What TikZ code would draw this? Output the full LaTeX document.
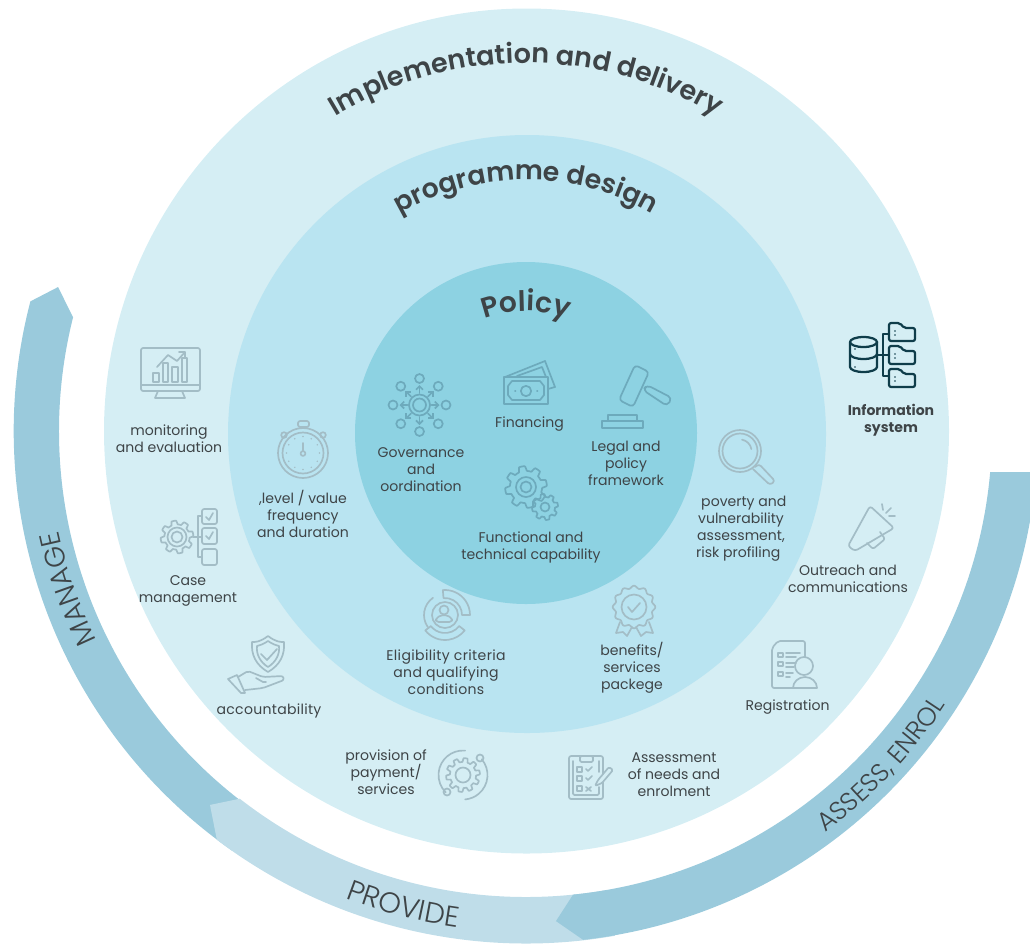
\documentclass[tikz,border=0pt]{standalone}
\usepackage{fontspec}
\setmainfont{Poppins}
\newfontfamily\headfont{Poppins SemiBold}
\newfontfamily\arcfont{Poppins Light}
\usetikzlibrary{arrows.meta,decorations.text}

\definecolor{ringout}{HTML}{D5EEF4}
\definecolor{ringmid}{HTML}{B9E4F1}
\definecolor{ringin}{HTML}{8DD2E2}
\definecolor{arcdark}{HTML}{9ACADC}
\definecolor{arclight}{HTML}{BFDDE9}
\definecolor{textcol}{HTML}{3E4447}
\definecolor{iconcol}{HTML}{A3BDC6}
\definecolor{iconin}{HTML}{6DAABC}
\definecolor{icondark}{HTML}{0F3D4A}

\tikzset{
  lab/.style={font=\fontsize{10}{12.1}\selectfont, align=center, text=textcol, inner sep=0pt},
  icon/.style={draw=iconcol, line width=1.2pt, line cap=round, line join=round},
  inicon/.style={icon, draw=iconin},
  darkicon/.style={icon, draw=icondark, line width=1.6pt},
}
\newcommand{\gearicon}[5][icon]{\draw[#1,shift={(#2,#3)}] plot[domain=0:360,samples=181,variable=\t] (\t:{#4*(1+.13*max(-1,min(1,2.5*sin(#5*\t))))}) -- cycle;}

\begin{document}
\begin{tikzpicture}[x=0.025cm,y=0.025cm]
  \clip (0,0) rectangle (1030,-943);

  % discs
  \fill [ringout] (526.5,-431) circle (422.5);
  \fill [ringmid] (527,-434) circle (299);
  \fill [ringin] (526,-433) circle (171);

  % the three arcs round the discs
  \begin{scope}[shift={(526,-431)}]
    \fill [arcdark] (235:512.3) arc (235:165.34:512.3) -- (162.9:489.6) -- (165.9:467) arc (165.9:235:467) -- cycle;
    \fill [arclight] (280:512.5) arc (280:232.9:512.5) -- (229.8:489.6) -- (232.1:466) arc (232.1:280:466) -- cycle;
    \fill [arcdark] (355.4:512) arc (355.4:276.4:512) -- (273.5:491) -- (275.8:466) arc (275.8:354.95:466) -- cycle;

    \path [decorate,decoration={text along path,text align=center,text color=textcol,text={|\arcfont\fontsize{20}{20}\selectfont|MANAGE}}] (213:478) arc (213:185:478);
    \path [decorate,decoration={text along path,text align=center,text color=textcol,text={|\arcfont\fontsize{20.5}{20}\selectfont|PROVIDE}}] (241:501) arc (241:270:501);
    \path [decorate,decoration={text along path,text align=center,text color=textcol,text={|\arcfont\fontsize{18.3}{18}\selectfont|ASSESS, ENROL}}] (-59.7:501) arc (-59.7:-26.7:501);

    \path [decorate,decoration={text along path,text align=center,text color=textcol,text={|\headfont\fontsize{19.2}{19}\selectfont|Implementation and delivery}}] (130:368) arc (130:50:368);
    \path [decorate,decoration={text along path,text align=center,text color=textcol,text={|\headfont\fontsize{19}{19}\selectfont|programme design}}] (130:251) arc (130:50:251);
    \path [decorate,decoration={text along path,text align=center,text color=textcol,text={|\headfont\fontsize{20}{20}\selectfont|Policy}}] (130:120) arc (130:50:120);
  \end{scope}

  % labels
  \node [lab] (monitoring) at (169,-439) {monitoring\\and evaluation};
  \node [lab] (governance) at (421,-470) {Governance\\and\\oordination};
  \node [lab] (financing) at (529.5,-424) {Financing};
  \node [lab] (legal) at (626,-463) {Legal and\\policy\\framework};
  \node [lab] (level) at (303,-514) {,level / value\\frequency\\and duration};
  \node [lab] (functional) at (531,-547) {Functional and\\technical capability};
  \node [lab] (poverty) at (741,-529) {\hspace*{4pt}poverty and\\vulnerability\\assessment,\\risk profiling\hspace*{4pt}};
  \node [lab,font=\fontsize{10}{12.1}\selectfont\bfseries] (information) at (891,-420) {Information\\system};
  \node [lab] (outreach) at (848,-579) {Outreach and\\communications};
  \node [lab] (casemgmt) at (188,-591) {Case\\management};
  \node [lab,font=\fontsize{10}{12.1}\selectfont\addfontfeature{LetterSpace=2}] (accountability) at (269,-711) {accountability};
  \node [lab,font=\fontsize{10}{12.1}\selectfont\addfontfeature{LetterSpace=2.5}] (eligibility) at (446,-672) {Eligibility criteria\\and qualifying\\conditions};
  \node [lab] (benefits) at (632,-668) {benefits/\\services\\packege};
  \node [lab] (registration) at (787.5,-707) {Registration};
  \node [lab] (provision) at (386,-772) {provision of\\payment/\\services};
  \node [lab] (assessment) at (674,-775) {Assessment\\of needs and\\enrolment};

  % monitor
  \draw [icon,rounded corners=1.5pt] (141,-348) rectangle (200,-391);
  \draw [icon] (141,-385) -- (200,-385) (158,-391) -- (155,-398) -- (185,-398) -- (182,-391);
  \draw [icon] (153,-382) -- (153,-373) -- (159,-373) -- (159,-382) -- cycle (163,-382) -- (163,-363) -- (168,-363) -- (168,-382) -- cycle;
  \draw [icon] (172,-382) -- (172,-367) -- (178,-367) -- (178,-382) -- cycle (182,-382) -- (182,-358) -- (187,-358) -- (187,-382) -- cycle;
  \draw [icon] (157,-367) -- (168,-355) -- (177,-361) -- (185,-352) (179,-352) -- (185,-352) -- (185,-358);

  % stopwatch
  \draw [icon] (303,-453) circle (25) (303,-453) circle (20.5);
  \draw [icon,rounded corners=1.5pt] (298,-421) rectangle (309,-427);
  \draw [icon] (303,-427) -- (303,-428) (284,-435) circle (2.8) (323,-435) circle (2.8);
  \draw [icon] (303,-443) -- (303,-451) (303,-453.5) circle (2.4);
  \foreach \a in {0,30,...,330}
    \fill [iconcol] (303,-453) ++(\a:16.5) circle (.8);

  % gear and check list
  \gearicon{177}{-537}{14.5}{8}
  \draw [icon] (177,-537) circle (9.5) (177,-537) circle (5.5);
  \draw [icon] (193,-537) -- (202,-537) (202,-516) -- (198,-516) -- (198,-557) -- (202,-557);
  \draw [icon,rounded corners=1.5pt] (202,-509) rectangle (217,-524) (202,-528) rectangle (217,-544) (202,-549) rectangle (217,-565);
  \draw [icon] (206,-517) -- (209,-520) -- (213,-513) (206,-536) -- (209,-539) -- (213,-532);

  % governance
  \draw [inicon] (419.5,-405) circle (6.5) (419.5,-405) circle (10.5);
  \foreach \a in {0,45,...,315} {
    \draw [inicon] (419.5,-405) ++(\a:26.5) circle (4.5);
    \draw [inicon,-{Straight Barb[length=2.5pt,width=5pt]}] (419.5,-405) ++(\a:12) -- ++(\a:8);
  }

  % money
  \draw [inicon] (504,-377) rectangle (548,-404);
  \draw [inicon] (505,-377) -- (545,-361) -- (555,-387) -- (548,-389) (517,-376) -- (542,-367) -- (546,-377);
  \draw [inicon] (512,-381) -- (540,-381) -- (544,-386) -- (544,-395) -- (540,-400) -- (512,-400) -- (508,-395) -- (508,-386) -- cycle;
  \draw [inicon] (526,-391) circle (5.2) (515,-391) -- (515.5,-391) (537,-391) -- (537.5,-391);

  % gavel
  \draw [inicon,rounded corners=2.5pt] (635,-365) -- (649,-372) -- (633,-407) -- (619,-400) -- cycle;
  \draw [inicon,rounded corners=3pt] (643,-390) -- (647,-385) -- (672,-398) -- (667,-406) -- cycle;
  \draw [inicon] (602,-421) rectangle (643,-428) (608,-415) rectangle (637,-421);

  % two gears
  \gearicon[inicon]{526}{-487}{18.5}{8}
  \draw [inicon] (526,-487) circle (10) (526,-487) circle (5.5);
  \gearicon[inicon]{545}{-507}{11.5}{8}
  \draw [inicon] (545,-507) circle (4.5);

  % magnifier
  \draw [icon] (740,-451) circle (21) (740,-451) circle (17.5);
  \draw [icon,rounded corners=2pt] (755,-467) -- (759,-464) -- (775,-481) -- (770,-485) -- (753,-469);
  \draw [icon] (740,-451) ++(80:11.5) arc (80:10:11.5);

  % megaphone
  \draw [icon,rounded corners=2pt] (870,-506) -- (894,-528) -- (855,-551) -- (848,-546) -- cycle;
  \draw [icon,rounded corners=1.5pt] (867,-543) -- (873,-549) -- (885,-539) -- (880,-532);
  \draw [icon] (882,-504) -- (883,-510) (886,-513) -- (891,-508) (889,-516) -- (895,-516);

  % information system
  \draw [darkicon] (850,-342) -- (850,-367) arc (180:360:13.5 and 5) -- (877,-342);
  \draw [darkicon] (863.5,-342) ellipse (13.5 and 5);
  \draw [darkicon] (850,-354) arc (180:360:13.5 and 5);
  \draw [darkicon] (877,-355) -- (889,-355) (889,-334) -- (883,-334) -- (883,-376) -- (889,-376);
  \foreach \fy in {323,346,369} {
    \draw [darkicon,rounded corners=1.5pt] (889,-\fy) -- (900,-\fy) -- (904,-\fy-5) -- (915,-\fy-5) -- (915,-\fy-18) -- (889,-\fy-18) -- cycle;
    \fill [icondark] (895,-\fy-8) circle (.9) (895,-\fy-12) circle (.9);
  }
  \foreach \fy in {349,358,367}
    \fill [icondark] (855,-\fy) circle (.9);

  % registration
  \draw [icon,rounded corners=1.5pt] (805,-657) -- (805,-641) -- (778,-641) -- (772,-648) -- (772,-688) -- (793,-688);
  \draw [icon] (778,-653) rectangle (783,-657) (778,-662) rectangle (783,-666) (778,-672) rectangle (783,-676);
  \draw [icon] (786,-653) -- (800,-653) (786,-657) -- (796,-657) (786,-663) -- (796,-663) (786,-667) -- (794,-667) (786,-673) -- (793,-673) (786,-677) -- (790,-677);
  \draw [icon] (804,-666) circle (9);
  \draw [icon] (793,-688) arc (180:0:12 and 11) -- cycle;

  % clipboard
  \draw [icon,rounded corners=1.5pt] (569,-756) rectangle (603,-799);
  \draw [icon,rounded corners=1pt] (573,-761) -- (573,-795) -- (599,-795) -- (599,-787) (599,-772) -- (599,-761);
  \draw [icon,fill=ringout,rounded corners=1pt] (580,-756) rectangle (593,-762);
  \draw [icon] (577,-767) rectangle (582,-772) (577,-776) rectangle (582,-781) (577,-786) rectangle (582,-791);
  \draw [icon] (586,-769) -- (588,-771) -- (592,-767) (586,-778) -- (588,-780) -- (592,-776) (586,-787) -- (591,-791) (591,-787) -- (586,-791);
  \draw [icon,fill=ringout,rounded corners=1pt] (595,-786) -- (598,-780) -- (609,-767) -- (613,-770) -- (602,-783) -- cycle;

  % rosette
  \draw [icon] plot[domain=0:360,samples=121,variable=\t] ({634+(20+1.3*cos(12*\t))*cos(\t)},{-607+(20+1.3*cos(12*\t))*sin(\t)}) -- cycle;
  \draw [icon] (634,-607) circle (12.5);
  \draw [icon] (628,-607) -- (632,-612) -- (640,-603);
  \draw [icon] (620,-622) -- (616,-633) -- (623,-632) -- (627,-636) -- (632,-627) (636,-627) -- (641,-636) -- (646,-632) -- (653,-633) -- (649,-622);

  % eligibility
  \begin{scope}[shift={(445,-615)}]
    \draw [icon] (95:25) arc (95:0:25) -- (0:17) arc (0:95:17) -- cycle;
    \draw [icon] (218:25) arc (218:322:25) -- (322:18) arc (322:218:18) -- cycle;
    \draw [icon] (125:21) arc (125:215:21);
    \draw [icon] (0,0) circle (13);
    \draw [icon] (-1,5) circle (4.5);
    \draw [icon,rounded corners=2pt] (-9,-7) -- (-9,-3) -- (-3,0) -- (1,0) -- (7,-3) -- (7,-7) -- cycle;
  \end{scope}

  % shield on hand
  \draw [icon] (268,-636) .. controls (276,-642) and (280,-642) .. (284,-642) .. controls (285,-655) and (280,-665) .. (268,-672) .. controls (256,-665) and (251,-655) .. (252,-642) .. controls (256,-642) and (260,-642) .. (268,-636);
  \draw [icon] (268,-641) .. controls (274,-645) and (276,-645) .. (279,-646) .. controls (280,-654) and (276,-662) .. (268,-667) .. controls (260,-662) and (256,-654) .. (257,-646) .. controls (260,-645) and (262,-645) .. (268,-641);
  \draw [icon] (261,-654) -- (267,-660) -- (277,-649);
  \draw [icon] (228,-679) -- (237,-675) -- (245,-693) -- (241,-693) -- cycle;
  \draw [icon,rounded corners=1.5pt] (238,-677) -- (248,-671) -- (263,-677) -- (283,-676) -- (284,-680) -- (263,-688) -- (245,-690);
  \draw [icon] (256,-678) -- (263,-682) -- (266,-682);

  % gear with orbit
  \gearicon{463}{-775}{15}{10}
  \draw [icon] (463,-775) circle (7.5);
  \draw [icon] (463,-775) ++(85:24.5) arc (85:225:24.5) (463,-775) ++(40:24.5) arc (40:-85:24.5);
  \draw [icon] (480,-758) circle (3.5) (447,-792) circle (3.5);
\end{tikzpicture}
\end{document}
